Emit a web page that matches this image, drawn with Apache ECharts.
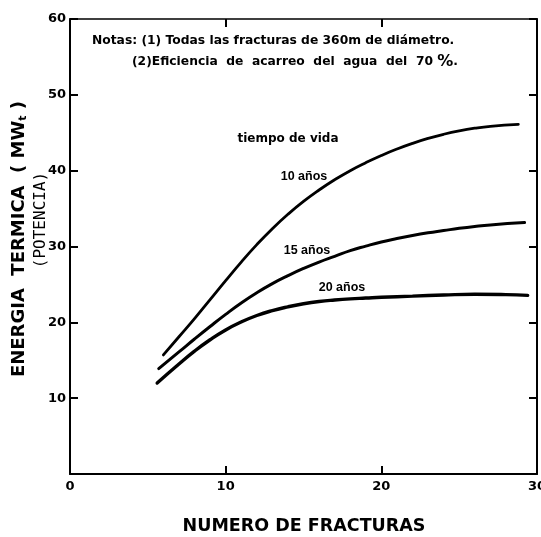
<!DOCTYPE html>
<html><head><meta charset="utf-8">
<script src="https://cdn.jsdelivr.net/npm/echarts@6/dist/echarts.min.js"></script>
<style>html,body{margin:0;padding:0;background:#fff}#c{width:541px;height:537px}</style>
</head><body><div id="c"></div>
<script>
// Data (x: número de fracturas, y: energía térmica MWt)
const x10 = [6,7,8,9,10,11,12,13,14,15,16,17,18,19,20,21,22,23,24,25,26,27,28.8];
const y10 = [15.7,18.1,20.5,23.0,25.5,27.95,30.25,32.35,34.25,35.95,37.45,38.8,40.0,41.05,42.0,42.85,43.6,44.25,44.8,45.25,45.6,45.85,46.1];
const x15 = [5.7,7,8,9,10,11,12,13,14,15,16,17,18,19,20,21,22,23,24,25,26,27,29.2];
const y15 = [13.9,16.1,17.8,19.45,21.05,22.55,23.9,25.1,26.15,27.1,27.95,28.7,29.45,30.05,30.6,31.05,31.45,31.8,32.1,32.4,32.65,32.85,33.15];
const x20 = [5.6,7,8,9,10,11,12,13,14,15,16,17,18,19,20,22,24,26,28,29.4];
const y20 = [12.0,14.5,16.2,17.7,19.0,20.05,20.9,21.55,22.05,22.45,22.75,22.95,23.1,23.2,23.3,23.45,23.6,23.7,23.65,23.55];
const seriesNames = ['10 años','15 años','20 años'];
const xTicks = [0,10,20,30];
const yTicks = [10,20,30,40,50,60];

const F = '"Liberation Sans", Arial, sans-serif';
const FD = '"DejaVu Sans", sans-serif';
const zip = (xs, ys) => xs.map((x, i) => [x, ys[i]]);

const chart = echarts.init(document.getElementById('c'), null, {renderer: 'canvas'});
const axisLine = {show: true, onZero: false, lineStyle: {color: '#000', width: 2}};
const tick = {show: true, inside: true, length: 8, lineStyle: {color: '#000', width: 2}};
chart.setOption({
  animation: false,
  backgroundColor: '#fff',
  grid: {left: 70, right: 4, top: 19, bottom: 63, containLabel: false, outerBoundsMode: 'none'},
  xAxis: [
    {type: 'value', min: 0, max: 30, interval: 10, position: 'bottom',
     axisLine: axisLine, axisTick: tick, splitLine: {show: false},
     axisLabel: {color: '#000', fontWeight: 'bold', fontSize: 13, fontFamily: FD, margin: 6,
       formatter: v => xTicks.includes(v) ? String(v) : ''}},
    {type: 'value', min: 0, max: 30, interval: 10, position: 'top',
     axisLine: {show: true, onZero: false, lineStyle: {color: '#000', width: 1.5}}, axisTick: tick,
     splitLine: {show: false}, axisLabel: {show: false}}
  ],
  yAxis: [
    {type: 'value', min: 0, max: 60, interval: 10, position: 'left',
     axisLine: axisLine, axisTick: tick, splitLine: {show: false},
     axisLabel: {color: '#000', fontWeight: 'bold', fontSize: 13, fontFamily: FD, margin: 4,
       formatter: v => yTicks.includes(v) ? String(v) : ''}},
    {type: 'value', min: 0, max: 60, interval: 10, position: 'right',
     axisLine: axisLine, axisTick: tick, splitLine: {show: false}, axisLabel: {show: false}}
  ],
  series: [
    {name: seriesNames[0], type: 'line', smooth: true, showSymbol: false, data: zip(x10, y10),
     lineStyle: {color: '#000', width: 2.8, cap: 'round'}},
    {name: seriesNames[1], type: 'line', smooth: true, showSymbol: false, data: zip(x15, y15),
     lineStyle: {color: '#000', width: 3, cap: 'round'}},
    {name: seriesNames[2], type: 'line', smooth: true, showSymbol: false, data: zip(x20, y20),
     lineStyle: {color: '#000', width: 3.4, cap: 'round'}}
  ],
  graphic: [
    {type: 'text', left: 92, top: 35, style: {text: 'Notas: (1) Todas las fracturas de 360m de diámetro.',
      fill: '#000', font: 'bold 12.3px ' + FD}},
    {type: 'text', left: 132, top: 54, style: {text: '{a|(2)Eficiencia  de  acarreo  del  agua  del  70 }{p|%}{a|.}',
      rich: {a: {font: 'bold 12.3px ' + FD, fill: '#000'}, p: {font: 'bold 16px ' + FD, fill: '#000'}}}},
    {type: 'text', x: 288, y: 139, style: {text: 'tiempo de vida', fill: '#000', font: 'bold 12px ' + FD,
      align: 'center', verticalAlign: 'middle'}},
    {type: 'text', x: 304, y: 177, style: {text: seriesNames[0], fill: '#000', font: 'bold 12.5px ' + F,
      align: 'center', verticalAlign: 'middle'}},
    {type: 'text', x: 307, y: 251, style: {text: seriesNames[1], fill: '#000', font: 'bold 12.5px ' + F,
      align: 'center', verticalAlign: 'middle'}},
    {type: 'text', x: 342, y: 288, style: {text: seriesNames[2], fill: '#000', font: 'bold 12.5px ' + F,
      align: 'center', verticalAlign: 'middle'}},
    {type: 'text', x: 304, y: 526, style: {text: 'NUMERO DE FRACTURAS', fill: '#000', font: 'bold 17.5px ' + FD,
      align: 'center', verticalAlign: 'middle'}},
    {type: 'text', x: 19, y: 239, rotation: Math.PI / 2,
     style: {text: '{m|ENERGIA  TERMICA  ( MW}{s|t}{m| )}', align: 'center', verticalAlign: 'middle',
       rich: {m: {font: 'bold 18px ' + FD, fill: '#000'}, s: {font: 'bold 11px ' + FD, fill: '#000', padding: [9, 0, 0, 0]}}}},
    {type: 'text', x: 41, y: 220, rotation: Math.PI / 2,
     style: {text: '(POTENCIA)', fill: '#000', font: '16px "DejaVu Sans Mono", monospace',
       align: 'center', verticalAlign: 'middle'}}
  ]
});
</script></body></html>
